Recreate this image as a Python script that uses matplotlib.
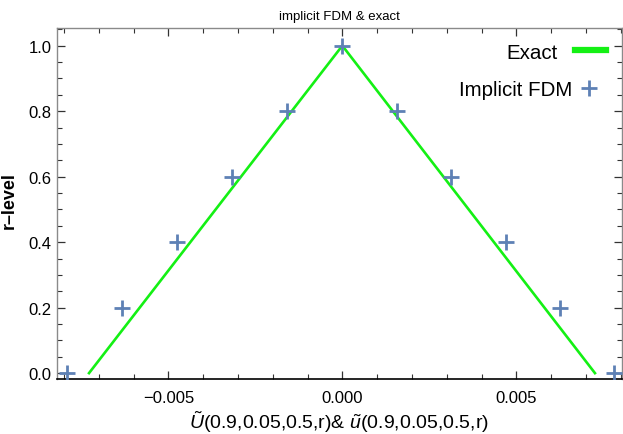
import numpy as np
import matplotlib
matplotlib.use("Agg")
import matplotlib.pyplot as plt
from matplotlib.ticker import MultipleLocator, FuncFormatter

plt.rcParams['font.family'] = ['Liberation Sans', 'DejaVu Sans']
plt.rcParams['mathtext.fontset'] = 'custom'
plt.rcParams['mathtext.rm'] = 'Liberation Sans'
plt.rcParams['mathtext.it'] = 'Liberation Sans:italic'

# r-levels and fuzzy solution bounds
r_levels = [0.0, 0.2, 0.4, 0.6, 0.8, 1.0]
fdm_lower = [-0.00790, -0.00633, -0.00475, -0.00317, -0.00159, 0.0]
fdm_upper = [0.00782, 0.00626, 0.00469, 0.00312, 0.00156, 0.0]

exact_r = [0.0, 1.0]
exact_lower = [-0.00728, 0.0]
exact_upper = [0.00726, 0.0]

blue = '#5E81B5'
green = '#14F014'

fig = plt.figure(figsize=(6.23, 4.35), dpi=100)
ax = fig.add_axes([0.0915, 0.1264, 0.9065, 0.8062])

# exact solution (lower branch + upper branch)
xs = exact_lower + exact_upper[::-1][1:]
rs = exact_r + exact_r[::-1][1:]
line, = ax.plot(xs, rs, color=green, lw=1.9, label='Exact', zorder=2)

# implicit FDM points
px = fdm_lower + fdm_upper[:-1]
pr = r_levels + r_levels[:-1]
pts, = ax.plot(px, pr, ls='none', marker='+', ms=11, mew=2.0, color=blue,
               label='Implicit FDM', zorder=3)

ax.set_xlim(-0.0082, 0.00803)
ax.set_ylim(-0.018, 1.053)


def fmt(v, pos, nd):
    s = '%.*f' % (nd, v)
    if s.startswith('-'):
        s = '\u2212' + s[1:]
    if s.lstrip('\u2212').strip('0.') == '':
        s = s.lstrip('\u2212')
    return s


ax.xaxis.set_major_locator(MultipleLocator(0.005))
ax.xaxis.set_minor_locator(MultipleLocator(0.001))
ax.xaxis.set_major_formatter(FuncFormatter(lambda v, p: fmt(v, p, 3)))
ax.yaxis.set_major_locator(MultipleLocator(0.2))
ax.yaxis.set_minor_locator(MultipleLocator(0.05))
ax.yaxis.set_major_formatter(FuncFormatter(lambda v, p: fmt(v, p, 1)))

ax.tick_params(which='both', direction='in', top=True, right=True,
               labelsize=12, colors='#333333', labelcolor='black')
ax.tick_params(which='major', length=6, width=0.9)
ax.tick_params(which='minor', length=3.5, width=0.8)
ax.tick_params(axis='x', pad=8)
ax.tick_params(axis='y', pad=4)

for side in ['left', 'top', 'right']:
    ax.spines[side].set_color('#8a8a8a')
    ax.spines[side].set_linewidth(1.0)
ax.spines['bottom'].set_color('black')
ax.spines['bottom'].set_linewidth(1.2)

ax.set_title('implicit FDM & exact', fontsize=9.5, pad=7)
ax.set_xlabel(r'$\tilde{U}$(0.9,0.05,0.5,r)& $\tilde{u}$(0.9,0.05,0.5,r)',
              fontsize=14)
ax.xaxis.set_label_coords(0.5, -0.085)
ax.set_ylabel('r\u2013level', fontsize=13, fontweight='bold')
ax.yaxis.set_label_coords(-0.069, 0.513)

# legend rows, handles on the right
leg1 = ax.legend(handles=[line], loc='center right', markerfirst=False,
                 frameon=False, fontsize=14.8, handlelength=1.5,
                 handletextpad=0.85, borderpad=0, borderaxespad=0,
                 bbox_to_anchor=(0.972, 0.932))
leg1.get_lines()[0].set_linewidth(4.5)
ax.add_artist(leg1)
ax.legend(handles=[pts], loc='center right', markerfirst=False,
          frameon=False, fontsize=14.8, handlelength=0.9,
          handletextpad=0.35, borderpad=0, borderaxespad=0,
          bbox_to_anchor=(0.9575, 0.826))

fig.savefig('out.png', dpi=100)
